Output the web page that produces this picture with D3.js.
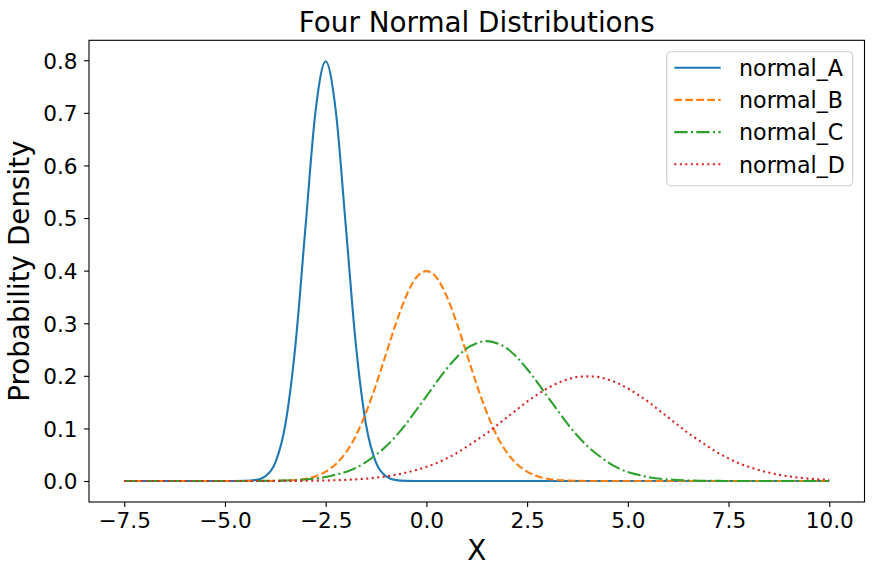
<!DOCTYPE html>
<html>
<head>
<meta charset="utf-8">
<script src="https://cdn.jsdelivr.net/npm/d3@7/dist/d3.min.js"></script>
<style>
  html, body { margin: 0; padding: 0; background: #fff; }
  svg { display: block; font-family: "DejaVu Sans", sans-serif; }
</style>
</head>
<body>
<svg id="chart" width="873" height="575"></svg>
<script>
// ---- data ----
const xValues = [-7.5,-7.25,-7,-6.75,-6.5,-6.25,-6,-5.75,-5.5,-5.25,-5,-4.75,-4.5,-4.25,-4,-3.75,-3.5,-3.25,-3,-2.75,-2.5,-2.25,-2,-1.75,-1.5,-1.25,-1,-0.75,-0.5,-0.25,0,0.25,0.5,0.75,1,1.25,1.5,1.75,2,2.25,2.5,2.75,3,3.25,3.5,3.75,4,4.25,4.5,4.75,5,5.25,5.5,5.75,6,6.25,6.5,6.75,7,7.25,7.5,7.75,8,8.25,8.5,8.75,9,9.25,9.5,9.75,10];

const normalA = [0,0,0,0,0,0,0,0,0,0,0,0,0.0003,0.0017,0.0089,0.035,0.108,0.259,0.484,0.704,0.798,0.704,0.484,0.259,0.108,0.035,0.0089,0.0017,0.0003,0,0,0,0,0,0,0,0,0,0,0,0,0,0,0,0,0,0,0,0,0,0,0,0,0,0,0,0,0,0,0,0,0,0,0,0,0,0,0,0,0,0];

const normalB = [0,0,0,0,0,0,0,0,0,0,0,0,0,0,0.0001,0.0004,0.0009,0.002,0.0044,0.009,0.018,0.032,0.054,0.086,0.130,0.183,0.242,0.301,0.352,0.387,0.399,0.387,0.352,0.301,0.242,0.183,0.130,0.086,0.054,0.032,0.018,0.009,0.0044,0.002,0.0009,0.0004,0.0001,0,0,0,0,0,0,0,0,0,0,0,0,0,0,0,0,0,0,0,0,0,0,0,0];

const normalC = [0,0,0,0,0,0,0,0,0,0,0,0,0.0001,0.0002,0.0003,0.0006,0.0010,0.0018,0.0030,0.0048,0.0076,0.012,0.017,0.025,0.036,0.050,0.066,0.086,0.109,0.135,0.161,0.188,0.213,0.235,0.252,0.262,0.266,0.262,0.252,0.235,0.213,0.188,0.161,0.135,0.109,0.086,0.066,0.050,0.036,0.025,0.017,0.012,0.0076,0.0048,0.0030,0.0018,0.0010,0.0006,0.0003,0.0002,0.0001,0,0,0,0,0,0,0,0,0,0];

const normalD = [0,0,0,0,0,0,0,0,0,0,0,0,0,0,0.0001,0.0001,0.0002,0.0003,0.0004,0.0007,0.0010,0.0015,0.0022,0.0032,0.0045,0.0064,0.0088,0.012,0.016,0.021,0.027,0.034,0.043,0.053,0.065,0.078,0.091,0.106,0.121,0.136,0.151,0.164,0.176,0.186,0.193,0.198,0.199,0.198,0.193,0.186,0.176,0.164,0.151,0.136,0.121,0.106,0.091,0.078,0.065,0.053,0.043,0.034,0.027,0.021,0.016,0.012,0.0088,0.0064,0.0045,0.0032,0.0022];

const seriesNames = ["normal_A", "normal_B", "normal_C", "normal_D"];
const xTicks = [-7.5, -5.0, -2.5, 0.0, 2.5, 5.0, 7.5, 10.0];
const yTicks = [0.0, 0.1, 0.2, 0.3, 0.4, 0.5, 0.6, 0.7, 0.8];

// ---- layout / style ----
const seriesData = [normalA, normalB, normalC, normalD];
const colors = ["#1f77b4", "#ff7f0e", "#2ca02c", "#d62728"];
const dashes = [null, "7.7,3.3", "13.3,3.3,2.1,3.3", "2.1,3.4"];

const svg = d3.select("#chart");
const m = { left: 89, right: 864.5, top: 40.3, bottom: 502 };

const xMin = d3.min(xValues), xMax = d3.max(xValues);
const xPad = (xMax - xMin) * 0.05;
const allY = seriesData.flat();
const yMax = d3.max(allY), yMin = d3.min(allY);
const yPad = (yMax - yMin) * 0.05;

const x = d3.scaleLinear().domain([xMin - xPad, xMax + xPad]).range([m.left, m.right]);
const y = d3.scaleLinear().domain([yMin - yPad, yMax + yPad]).range([m.bottom, m.top]);

// clip
svg.append("defs").append("clipPath").attr("id", "clip")
  .append("rect").attr("x", m.left).attr("y", m.top)
  .attr("width", m.right - m.left).attr("height", m.bottom - m.top);

// lines
const line = d3.line()
  .x((d, i) => x(xValues[i]))
  .y(d => y(d))
  .curve(d3.curveMonotoneX);

const plot = svg.append("g").attr("clip-path", "url(#clip)");
seriesData.forEach((s, k) => {
  plot.append("path")
    .datum(s)
    .attr("d", line)
    .attr("fill", "none")
    .attr("stroke", colors[k])
    .attr("stroke-width", 2.1)
    .attr("stroke-dasharray", dashes[k])
    .attr("stroke-linejoin", "round");
});

// axes
const fmt = d3.format(".1f");
const minusFmt = v => fmt(v).replace("-", "\u2212");

const xAxis = d3.axisBottom(x).tickValues(xTicks).tickFormat(minusFmt)
  .tickSizeInner(4.9).tickSizeOuter(0).tickPadding(4.9);
const yAxis = d3.axisLeft(y).tickValues(yTicks).tickFormat(minusFmt)
  .tickSizeInner(4.9).tickSizeOuter(0).tickPadding(4.9);

const gx = svg.append("g").attr("transform", `translate(0,${m.bottom})`).call(xAxis);
const gy = svg.append("g").attr("transform", `translate(${m.left},0)`).call(yAxis);
[gx, gy].forEach(g => {
  g.select(".domain").remove();
  g.selectAll(".tick line").attr("stroke", "#000").attr("stroke-width", 1.1);
  g.selectAll(".tick text").attr("fill", "#000")
    .style("font-size", "21.6px").style("font-family", "DejaVu Sans");
});
gx.selectAll(".tick text").attr("dy", null).attr("y", 26);
gy.selectAll(".tick text").attr("dy", "0.36em").attr("x", -11.5);

// frame
svg.append("rect")
  .attr("x", m.left).attr("y", m.top)
  .attr("width", m.right - m.left).attr("height", m.bottom - m.top)
  .attr("fill", "none").attr("stroke", "#000").attr("stroke-width", 1.1);

// title and labels
const cx = (m.left + m.right) / 2;
svg.append("text").attr("x", cx).attr("y", 31.7)
  .attr("text-anchor", "middle").style("font-size", "27.8px")
  .text("Four Normal Distributions");
svg.append("text").attr("x", cx).attr("y", 560)
  .attr("text-anchor", "middle").style("font-size", "27.8px")
  .text("X");
svg.append("text")
  .attr("transform", `translate(28.5,${(m.top + m.bottom) / 2}) rotate(-90)`)
  .attr("text-anchor", "middle").style("font-size", "27.8px")
  .text("Probability Density");

// legend
const lg = svg.append("g");
lg.append("rect")
  .attr("x", 666.7).attr("y", 51.7).attr("width", 186).attr("height", 134)
  .attr("rx", 4.4).attr("ry", 4.4)
  .attr("fill", "#fff").attr("fill-opacity", 0.8)
  .attr("stroke", "#cccccc").attr("stroke-width", 1.1);
seriesNames.forEach((name, k) => {
  const cy = 67.7 + k * 32.2;
  lg.append("line")
    .attr("x1", 674.3).attr("x2", 720.7).attr("y1", cy).attr("y2", cy)
    .attr("stroke", colors[k]).attr("stroke-width", 2.1)
    .attr("stroke-dasharray", dashes[k]);
  lg.append("text").attr("x", 739).attr("y", cy + 8.2)
    .style("font-size", "22.2px").text(name);
});
</script>
</body>
</html>
